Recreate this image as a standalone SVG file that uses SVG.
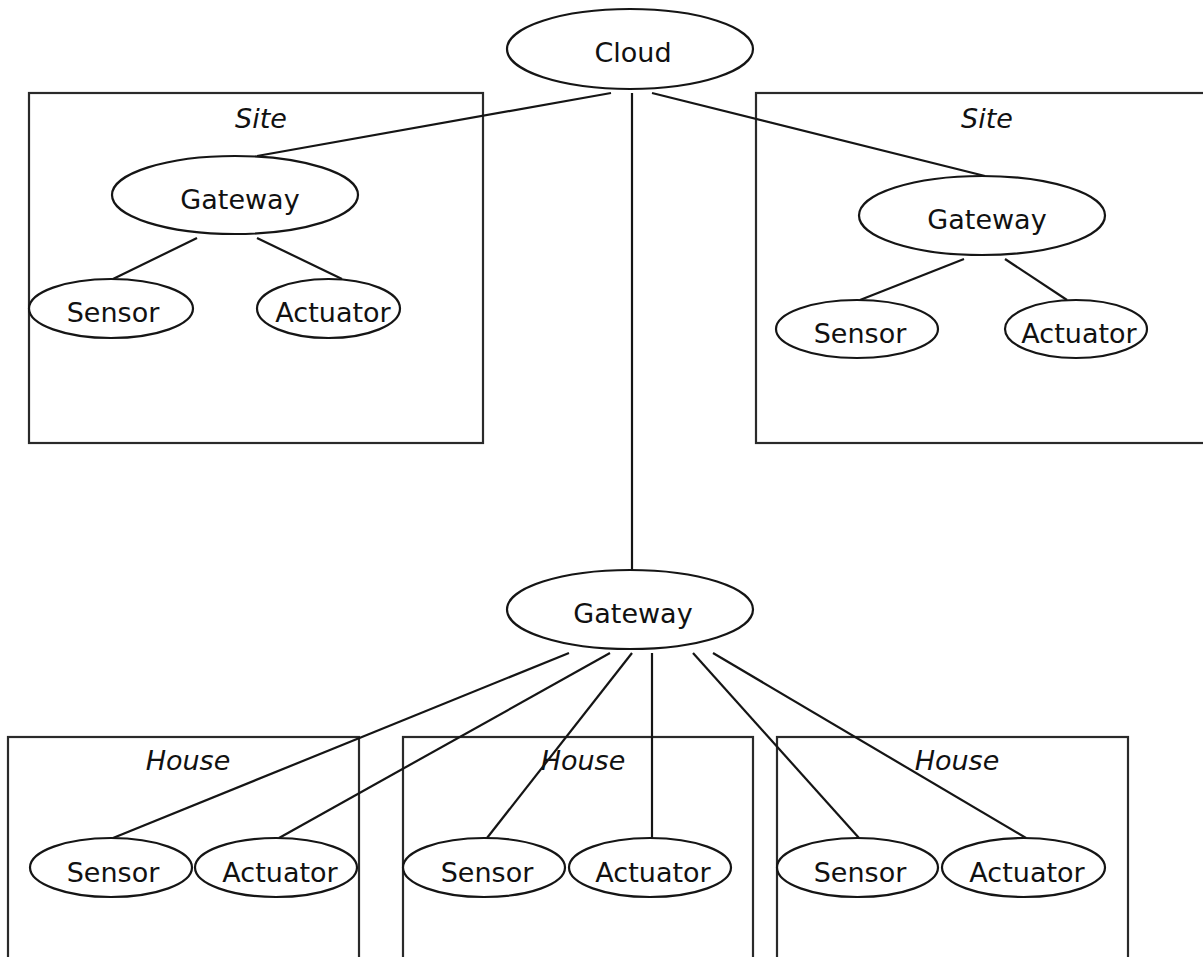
<svg xmlns="http://www.w3.org/2000/svg" width="1203" height="957" viewBox="0 0 1203 957">
  <style>
    .box { fill: none; stroke: #2a2a2a; stroke-width: 2.2; }
    .node { fill: #fff; stroke: #151515; stroke-width: 2.2; }
    .edge { stroke: #151515; stroke-width: 2.2; fill: none; }
    .lbl { font-family: "DejaVu Sans", "Liberation Sans", sans-serif; font-size: 27px; fill: #111; text-anchor: middle; }
    .title { font-family: "DejaVu Sans", "Liberation Sans", sans-serif; font-size: 27px; font-style: italic; fill: #111; text-anchor: middle; }
  </style>
  <rect width="1203" height="957" fill="#fff"/>

  <!-- containers -->
  <g id="site-left">
    <rect class="box" x="29" y="93" width="454" height="350"/>
    <text class="title" x="261" y="128">Site</text>
  </g>
  <g id="site-right">
    <rect class="box" x="756" y="93" width="460" height="350"/>
    <text class="title" x="987" y="128">Site</text>
  </g>
  <g id="house-left">
    <rect class="box" x="8" y="737" width="351" height="240"/>
    <text class="title" x="188" y="770">House</text>
  </g>
  <g id="house-middle">
    <rect class="box" x="403" y="737" width="350" height="240"/>
    <text class="title" x="583" y="770">House</text>
  </g>
  <g id="house-right">
    <rect class="box" x="777" y="737" width="351" height="240"/>
    <text class="title" x="957" y="770">House</text>
  </g>

  <!-- connectors -->
  <g id="connectors">
    <line class="edge" x1="611" y1="93" x2="257" y2="156"/>
    <line class="edge" x1="632" y1="93" x2="632" y2="570"/>
    <line class="edge" x1="652" y1="93" x2="985" y2="176"/>
    <line class="edge" x1="197" y1="238" x2="113" y2="279"/>
    <line class="edge" x1="257" y1="238" x2="342" y2="279"/>
    <line class="edge" x1="964" y1="259" x2="860" y2="300"/>
    <line class="edge" x1="1005" y1="259" x2="1067" y2="300"/>
    <line class="edge" x1="569" y1="653" x2="113" y2="838"/>
    <line class="edge" x1="610" y1="653" x2="279" y2="838"/>
    <line class="edge" x1="632" y1="653" x2="487" y2="838"/>
    <line class="edge" x1="652" y1="653" x2="652" y2="838"/>
    <line class="edge" x1="693" y1="653" x2="859" y2="838"/>
    <line class="edge" x1="713" y1="653" x2="1026" y2="838"/>
  </g>

  <!-- nodes -->
  <g id="cloud">
    <ellipse class="node" cx="630" cy="49" rx="123" ry="40"/>
    <text class="lbl" x="633" y="62">Cloud</text>
  </g>
  <g id="gateway-site-left">
    <ellipse class="node" cx="235" cy="195" rx="123" ry="39"/>
    <text class="lbl" x="240" y="209">Gateway</text>
  </g>
  <g id="sensor-site-left">
    <ellipse class="node" cx="111" cy="308.5" rx="82" ry="29.5"/>
    <text class="lbl" x="113" y="322">Sensor</text>
  </g>
  <g id="actuator-site-left">
    <ellipse class="node" cx="328.5" cy="308.5" rx="71.5" ry="29.5"/>
    <text class="lbl" x="333" y="322">Actuator</text>
  </g>
  <g id="gateway-site-right">
    <ellipse class="node" cx="982" cy="215.5" rx="123" ry="39.5"/>
    <text class="lbl" x="987" y="229">Gateway</text>
  </g>
  <g id="sensor-site-right">
    <ellipse class="node" cx="857" cy="329" rx="81" ry="29"/>
    <text class="lbl" x="860" y="343">Sensor</text>
  </g>
  <g id="actuator-site-right">
    <ellipse class="node" cx="1076" cy="329" rx="71" ry="29"/>
    <text class="lbl" x="1079" y="343">Actuator</text>
  </g>
  <g id="gateway-houses">
    <ellipse class="node" cx="630" cy="609.5" rx="123" ry="39.5"/>
    <text class="lbl" x="633" y="623">Gateway</text>
  </g>
  <g id="sensor-house-left">
    <ellipse class="node" cx="111" cy="867.5" rx="81" ry="29.5"/>
    <text class="lbl" x="113" y="882">Sensor</text>
  </g>
  <g id="actuator-house-left">
    <ellipse class="node" cx="276" cy="867.5" rx="81" ry="29.5"/>
    <text class="lbl" x="280" y="882">Actuator</text>
  </g>
  <g id="sensor-house-middle">
    <ellipse class="node" cx="484" cy="867.5" rx="81" ry="29.5"/>
    <text class="lbl" x="487" y="882">Sensor</text>
  </g>
  <g id="actuator-house-middle">
    <ellipse class="node" cx="650" cy="867.5" rx="81" ry="29.5"/>
    <text class="lbl" x="653" y="882">Actuator</text>
  </g>
  <g id="sensor-house-right">
    <ellipse class="node" cx="857.5" cy="867.5" rx="80.5" ry="29.5"/>
    <text class="lbl" x="860" y="882">Sensor</text>
  </g>
  <g id="actuator-house-right">
    <ellipse class="node" cx="1023.5" cy="867.5" rx="81.5" ry="29.5"/>
    <text class="lbl" x="1027" y="882">Actuator</text>
  </g>
</svg>
